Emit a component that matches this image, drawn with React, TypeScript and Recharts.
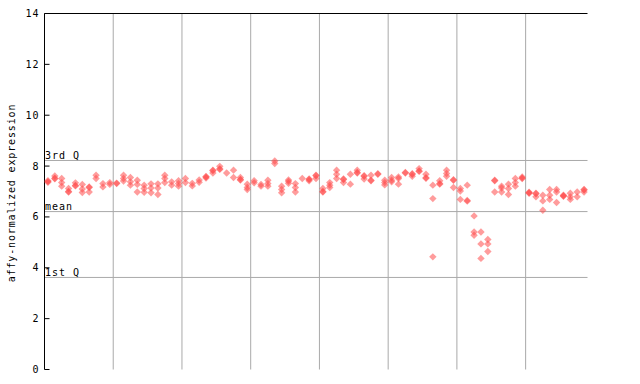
import React from "react";
import {
  ScatterChart,
  Scatter,
  XAxis,
  YAxis,
  ReferenceLine,
} from "recharts";

// three probe readings per sample (null where the probe has no point)
const probeA = [
  7.39, 7.61, 7.51, 7.12, 7.34, 7.28, 7.18, 7.64, 7.31, 7.35,
  7.31, 7.64, 7.55, 7.44, 7.25, 7.3, 7.3, 7.64, 7.38, 7.42,
  7.51, 7.32, 7.45, 7.59, 7.84, 7.99, 7.73, 7.84, 7.55, 7.29,
  7.42, 7.28, 7.44, 8.2, 7.21, 7.45, 7.31, 7.51, 7.49, 7.64,
  7.12, 7.35, 7.84, 7.49, 7.68, 7.84, 7.6, 7.64, 7.68, 7.44,
  7.55, 7.57, 7.73, 7.68, 7.9, 7.68, 7.25, 7.42, 7.84, 7.44,
  7.12, 7.25, 6.04, 5.41, 5.11, 7.42, 7.21, 7.29, 7.51, 7.57,
  6.95, 6.93, 6.85, 7.08, 7.08, 6.83, 6.93, 6.98, 7.08,
];
const probeB = [
  7.42, 7.5, 7.35, 6.98, 7.22, 7.1, 7.16, 7.51, 7.18, 7.28,
  7.33, 7.51, 7.38, 7.28, 7.12, 7.14, 7.14, 7.51, 7.25, 7.31,
  7.35, 7.22, 7.36, 7.53, 7.73, 7.89, null, 7.55, 7.47, 7.16,
  7.34, 7.21, 7.31, 8.1, 7.08, 7.32, 7.16, null, 7.42, 7.51,
  6.98, 7.25, 7.68, 7.35, 7.29, 7.73, 7.49, 7.42, 7.7, 7.35,
  7.44, 7.51, 7.75, 7.6, 7.81, 7.52, 6.72, 7.29, 7.71, 7.16,
  7.02, 6.65, 5.41, 4.94, 4.94, 6.98, 7.14, 7.12, 7.35, 7.51,
  6.93, 6.79, 6.63, 6.85, 6.98, 6.85, 6.79, 6.79, 6.98,
];
const probeC = [
  7.36, 7.52, 7.21, 7.0, 7.24, 6.96, 6.98, null, null, null,
  null, 7.41, 7.25, 6.98, 6.97, 6.95, 6.88, 7.35, null, 7.21,
  null, null, null, 7.57, 7.82, 7.87, null, null, 7.45, 7.08,
  null, null, 7.21, null, 6.95, 7.4, 6.98, null, 7.47, 7.62,
  7.0, 7.16, 7.51, 7.47, null, 7.75, 7.62, 7.44, null, 7.26,
  7.38, 7.29, null, 7.7, 7.79, 7.54, 4.43, 7.31, 7.6, 7.46,
  6.69, 6.62, 5.28, 4.37, 4.64, 7.44, 6.98, 6.88, 7.21, 7.53,
  6.97, 6.91, 6.26, 6.69, 6.57, 6.81, 6.69, null, 7.06,
];

const yTicks = [0, 2, 4, 6, 8, 10, 12, 14];
const groupEdges = [9.5, 19.5, 29.5, 39.5, 49.5, 59.5, 69.5];
const thirdQ = 8.22;
const meanValue = 6.21;
const firstQ = 3.62;

const toPoints = (values: (number | null)[]) =>
  values
    .map((v, i) => ({ x: i, y: v }))
    .filter((p) => p.y !== null);

const FONT = "'DejaVu Sans Mono', monospace";
const DOT = "#ff4a4a";
const GRID = "#a9a9a9";

const Diamond = (props: any) => {
  const { cx, cy } = props;
  const r = 3.7;
  return (
    <polygon
      points={`${cx},${cy - r} ${cx + r},${cy} ${cx},${cy + r} ${cx - r},${cy}`}
      fill={DOT}
      fillOpacity={0.55}
    />
  );
};

const LeftTick = (props: any) => {
  const { x, y, payload } = props;
  const axisX = x + 5;
  return (
    <g>
      <line x1={axisX} x2={axisX + 5} y1={y} y2={y} stroke="#000" />
      <text
        x={x}
        y={y}
        dy={3.5}
        textAnchor="end"
        fill="#000"
        style={{ fontFamily: FONT, fontSize: 10, letterSpacing: 1 }}
      >
        {payload.value}
      </text>
    </g>
  );
};

const RightTick = (props: any) => {
  const { x, y } = props;
  return <line x1={x - 5} x2={x} y1={y} y2={y} stroke="#000" />;
};

const AxisTitle = () => (
  <text
    x={15}
    y={193}
    transform="rotate(-90, 15, 193)"
    textAnchor="middle"
    fill="#000"
    style={{ fontFamily: FONT, fontSize: 10, letterSpacing: 0.85 }}
  >
    affy-normalized expression
  </text>
);

const QLabel = (props: any) => {
  const { viewBox, text } = props;
  if (!viewBox) return null;
  return (
    <text
      x={viewBox.x + 0.5}
      y={viewBox.y - 1.5}
      fill="#000"
      style={{ fontFamily: FONT, fontSize: 10, letterSpacing: 1 }}
    >
      {text}
    </text>
  );
};

export default function App() {
  return (
    <div style={{ position: "absolute", left: 0, top: 0, background: "#fff" }}>
      <ScatterChart
        width={640}
        height={384}
        margin={{ top: 13.5, right: 52.5, bottom: 14.5, left: 0 }}
      >
        <XAxis
          type="number"
          dataKey="x"
          domain={[-0.5, 78.5]}
          height={0}
          tick={false}
          tickLine={false}
          axisLine={{ stroke: "#000" }}
        />
        <YAxis
          yAxisId="l"
          type="number"
          dataKey="y"
          domain={[0, 14]}
          ticks={yTicks}
          width={44.5}
          tickSize={0}
          tickMargin={5}
          tickLine={false}
          tick={<LeftTick />}
          axisLine={{ stroke: "#000" }}
          label={<AxisTitle />}
        />
        <YAxis
          yAxisId="r"
          orientation="right"
          type="number"
          domain={[0, 14]}
          ticks={yTicks}
          width={0}
          tickSize={0}
          tickMargin={0}
          tickLine={false}
          tick={<RightTick />}
          axisLine={{ stroke: "#000" }}
        />
        {groupEdges.map((g) => (
          <ReferenceLine key={g} x={g} yAxisId="l" stroke={GRID} />
        ))}
        <ReferenceLine y={14} yAxisId="l" stroke="#000" />
        <ReferenceLine y={thirdQ} yAxisId="l" stroke={GRID} label={<QLabel text="3rd Q" />} />
        <ReferenceLine y={meanValue} yAxisId="l" stroke={GRID} label={<QLabel text="mean" />} />
        <ReferenceLine y={firstQ} yAxisId="l" stroke={GRID} label={<QLabel text="1st Q" />} />
        <Scatter yAxisId="l" data={toPoints(probeA)} shape={<Diamond />} isAnimationActive={false} />
        <Scatter yAxisId="l" data={toPoints(probeB)} shape={<Diamond />} isAnimationActive={false} />
        <Scatter yAxisId="l" data={toPoints(probeC)} shape={<Diamond />} isAnimationActive={false} />
      </ScatterChart>
    </div>
  );
}
